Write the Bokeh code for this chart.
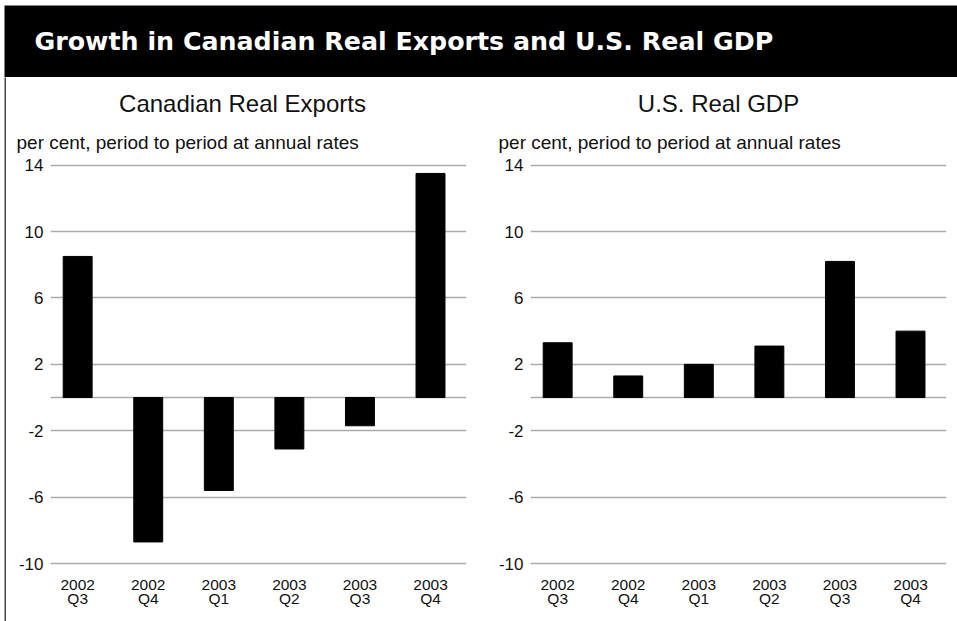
from bokeh.plotting import figure
from bokeh.layouts import column, row
from bokeh.models import Range1d, FixedTicker, Label
from bokeh.embed import file_html
from bokeh.resources import INLINE

# ---- data ----
years = ["2002", "2002", "2003", "2003", "2003", "2003"]
quarters = ["Q3", "Q4", "Q1", "Q2", "Q3", "Q4"]
canada_exports = [8.5, -8.7, -5.6, -3.1, -1.7, 13.5]
us_gdp = [3.3, 1.3, 2.0, 3.1, 8.2, 4.0]
y_ticks = [-10, -6, -2, 2, 6, 10, 14]
grid_ticks = [-10, -6, -2, 0, 2, 6, 10, 14]
main_title = "Growth in Canadian Real Exports and U.S. Real GDP"
panel_titles = ["Canadian Real Exports", "U.S. Real GDP"]
unit_text = "per cent, period to period at annual rates"

FONT = "Liberation Sans"
TXT = "#111111"
positions = list(range(len(years)))
cat_labels = {i: f"{y}\n{q}" for i, (y, q) in enumerate(zip(years, quarters))}
y_labels = {t: str(t) for t in y_ticks}


def blank(width, height, fill, border_fill="white", **kw):
    p = figure(width=width, height=height, output_backend="svg", toolbar_location=None,
               x_axis_location=None, y_axis_location=None, min_border=0, **kw)
    p.outline_line_color = None
    p.background_fill_color = fill
    p.border_fill_color = border_fill
    p.grid.visible = False
    p.frame_align = False
    return p


def header(width, title, title_x, unit_x):
    h = blank(width, 80, "white", x_range=Range1d(0, width), y_range=Range1d(80, 0))
    h.add_layout(Label(x=title_x, y=26, text=title, text_align="center",
                       text_baseline="middle", text_font=FONT,
                       text_font_size="24px", text_color=TXT))
    h.add_layout(Label(x=unit_x, y=65, text=unit_text, text_align="left",
                       text_baseline="middle", text_font=FONT,
                       text_font_size="19px", text_color=TXT))
    return h


def panel(values, width, left, right):
    p = figure(width=width, height=464, output_backend="svg", toolbar_location=None,
               x_range=Range1d(-0.385, 5.51), y_range=Range1d(-10.24, 14.28),
               min_border_left=left, min_border_right=right,
               min_border_top=3, min_border_bottom=54)
    p.frame_align = False
    p.outline_line_color = None
    p.background_fill_color = "white"
    p.border_fill_color = "white"
    p.vbar(x=positions, top=values, bottom=0, width=0.41, color="black")

    p.xgrid.visible = False
    p.ygrid.ticker = FixedTicker(ticks=grid_ticks)
    p.ygrid.grid_line_color = "#ababab"
    p.ygrid.grid_line_width = 1.5

    p.yaxis.ticker = FixedTicker(ticks=y_ticks)
    p.yaxis.major_label_overrides = y_labels
    p.yaxis.axis_line_color = None
    p.yaxis.major_tick_line_color = None
    p.yaxis.minor_tick_line_color = None
    p.yaxis.major_tick_out = 0
    p.yaxis.major_tick_in = 0
    p.yaxis.minor_tick_out = 0
    p.yaxis.major_label_standoff = 7
    p.yaxis.major_label_text_font = FONT
    p.yaxis.major_label_text_font_size = "17px"
    p.yaxis.major_label_text_color = TXT

    p.xaxis.ticker = FixedTicker(ticks=positions)
    p.xaxis.major_label_overrides = cat_labels
    p.xaxis.axis_line_color = None
    p.xaxis.major_tick_line_color = None
    p.xaxis.minor_tick_line_color = None
    p.xaxis.major_tick_out = 0
    p.xaxis.major_tick_in = 0
    p.xaxis.minor_tick_out = 0
    p.xaxis.major_label_standoff = 8
    p.xaxis.major_label_text_font = FONT
    p.xaxis.major_label_text_font_size = "15.5px"
    p.xaxis.major_label_text_line_height = 0.88
    p.xaxis.major_label_text_color = TXT
    return p


band = figure(width=957, height=77, output_backend="svg", toolbar_location=None,
              x_axis_location=None, y_axis_location=None,
              min_border_left=4, min_border_top=5, min_border_right=0, min_border_bottom=0,
              x_range=Range1d(0, 953), y_range=Range1d(72, 0))
band.frame_align = False
band.outline_line_color = None
band.background_fill_color = "black"
band.border_fill_color = "white"
band.grid.visible = False
band.add_layout(Label(x=30, y=36, text=main_title, text_align="left",
                      text_baseline="middle", text_font="DejaVu Sans",
                      text_font_style="bold", text_font_size="25.3px",
                      text_color="white"))

edge = blank(6, 544, "#444444", x_range=Range1d(0, 1), y_range=Range1d(0, 1))
edge.min_border_left = 4

left_col = column(header(473, panel_titles[0], 236, 10),
                  panel(canada_exports, 473, 44, 13))
right_col = column(header(478, panel_titles[1], 239, 19),
                   panel(us_gdp, 478, 51, 11))

layout = column(band, row(edge, left_col, right_col))
open("out.html", "w").write(file_html(layout, INLINE))
